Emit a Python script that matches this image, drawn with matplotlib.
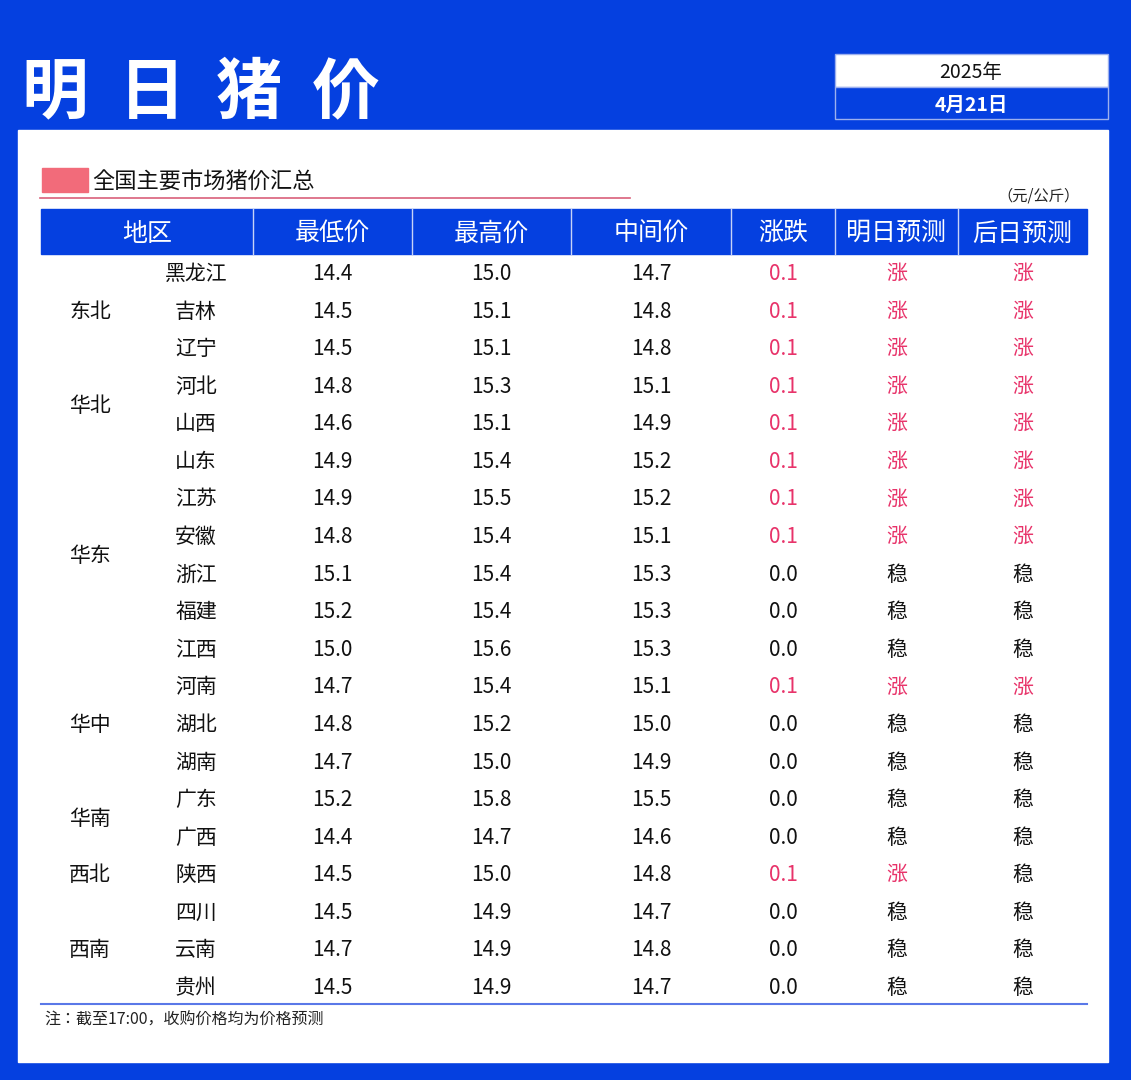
import matplotlib.pyplot as plt
from matplotlib import font_manager
from matplotlib.patches import Rectangle

cjk = [f for f in font_manager.fontManager.ttflist if 'CJK' in f.name]
names = sorted(set(f.name for f in cjk))
fam = [n for n in names if 'SC' in n] or names or ['DejaVu Sans']
plt.rcParams['font.family'] = [fam[0], 'DejaVu Sans']

provinces = ['黑龙江', '吉林', '辽宁', '河北', '山西', '山东', '江苏', '安徽', '浙江', '福建',
             '江西', '河南', '湖北', '湖南', '广东', '广西', '陕西', '四川', '云南', '贵州']
low = [14.4, 14.5, 14.5, 14.8, 14.6, 14.9, 14.9, 14.8, 15.1, 15.2,
       15.0, 14.7, 14.8, 14.7, 15.2, 14.4, 14.5, 14.5, 14.7, 14.5]
high = [15.0, 15.1, 15.1, 15.3, 15.1, 15.4, 15.5, 15.4, 15.4, 15.4,
        15.6, 15.4, 15.2, 15.0, 15.8, 14.7, 15.0, 14.9, 14.9, 14.9]
mid = [14.7, 14.8, 14.8, 15.1, 14.9, 15.2, 15.2, 15.1, 15.3, 15.3,
       15.3, 15.1, 15.0, 14.9, 15.5, 14.6, 14.8, 14.7, 14.8, 14.7]
change = [0.1] * 8 + [0.0] * 3 + [0.1] + [0.0] * 4 + [0.1] + [0.0] * 3
tomorrow = ['涨'] * 8 + ['稳'] * 3 + ['涨'] + ['稳'] * 4 + ['涨'] + ['稳'] * 3
after = ['涨'] * 8 + ['稳'] * 3 + ['涨'] + ['稳'] * 8
# (name, first row, last row)
groups = [('东北', 0, 2), ('华北', 3, 4), ('华东', 5, 10), ('华中', 11, 13),
          ('华南', 14, 15), ('西北', 16, 16), ('西南', 17, 19)]
headers = ['地区', '最低价', '最高价', '中间价', '涨跌', '明日预测', '后日预测']

BLUE = '#0540E0'
RED = '#E8336A'

fig = plt.figure(figsize=(11.31, 10.8), dpi=100)
fig.patch.set_facecolor(BLUE)
ax = fig.add_axes([0, 0, 1, 1])
ax.set_xlim(0, 1131)
ax.set_ylim(1080, 0)
ax.axis('off')

# white panel
ax.add_patch(Rectangle((18, 130), 1090, 932, color='white'))
ax.text(22, 93, '明  日  猪  价', color='white', fontsize=48, fontweight='bold', va='center')

# date box
ax.add_patch(Rectangle((835, 54), 273, 33, facecolor='white', edgecolor='#9db0ee', lw=1))
ax.add_patch(Rectangle((835, 87), 273, 32, facecolor=BLUE, edgecolor='#9db0ee', lw=1))
ax.text(971, 72, '2025年', fontsize=14, ha='center', va='center', color='#111111')
ax.text(971, 105, '4月21日', fontsize=14, ha='center', va='center', color='white', fontweight='bold')

# subtitle
ax.add_patch(Rectangle((42, 168), 46, 24, color='#F26B7A'))
ax.text(92, 182, '全国主要市场猪价汇总', fontsize=16, va='center', color='#111111')
ax.plot([40, 630], [198, 198], color='#D9607A', lw=1.2)
ax.text(1080, 196, '（元/公斤）', fontsize=11, ha='right', va='center', color='#222222')

# header
edges = [41, 253, 412, 571, 731, 835, 958, 1087]
ax.add_patch(Rectangle((41, 209), 1046, 45, color=BLUE))
for i, h in enumerate(headers):
    ax.text((edges[i] + edges[i + 1]) / 2, 234, h, fontsize=18, ha='center', va='center', color='white')
    if i > 0:
        ax.plot([edges[i]] * 2, [209, 254], color='#c7d3f7', lw=1)

y0, dy = 274, (986 - 272) / 19
cx = [(edges[i] + edges[i + 1]) / 2 for i in range(1, 7)]
for r in range(len(provinces)):
    y = y0 + r * dy
    up = change[r] > 0
    ax.text(196, y, provinces[r], fontsize=15, ha='center', va='center', color='#111111')
    ax.text(cx[0], y, f'{low[r]:.1f}', fontsize=15, ha='center', va='center', color='#111111')
    ax.text(cx[1], y, f'{high[r]:.1f}', fontsize=15, ha='center', va='center', color='#111111')
    ax.text(cx[2], y, f'{mid[r]:.1f}', fontsize=15, ha='center', va='center', color='#111111')
    ax.text(cx[3], y, f'{change[r]:.1f}', fontsize=15, ha='center', va='center',
            color=RED if up else '#111111')
    ax.text(cx[4], y, tomorrow[r], fontsize=15, ha='center', va='center',
            color=RED if tomorrow[r] == '涨' else '#111111')
    ax.text(cx[5], y, after[r], fontsize=15, ha='center', va='center',
            color=RED if after[r] == '涨' else '#111111')

for name, a, b in groups:
    ax.text(90, y0 + (a + b) / 2 * dy, name, fontsize=15, ha='center', va='center', color='#111111')

ax.plot([41, 1087], [1004, 1004], color='#5a78e8', lw=1.5)
ax.text(44, 1020, '注：截至17:00，收购价格均为价格预测', fontsize=11.5, va='center', color='#222222')

fig.savefig('out.png', dpi=100, facecolor=BLUE)
